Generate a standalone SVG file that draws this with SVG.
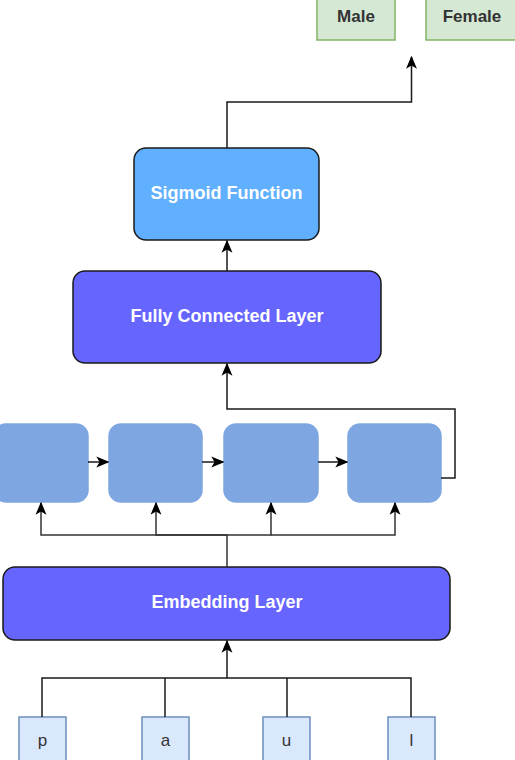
<svg xmlns="http://www.w3.org/2000/svg" width="515" height="760" viewBox="0 0 515 760">
<style>
.lbl{font-family:"Liberation Sans",Arial,sans-serif;font-weight:bold;font-size:18px;fill:#ffffff;text-anchor:middle;dominant-baseline:central}
.out{font-family:"Liberation Sans",Arial,sans-serif;font-weight:bold;font-size:17px;fill:#333333;text-anchor:middle;dominant-baseline:central}
.ch{font-family:"Liberation Sans",Arial,sans-serif;font-size:17px;fill:#333333;text-anchor:middle;dominant-baseline:central}
.green{fill:#d5e8d4;stroke:#82b366;stroke-width:1.5}
.inp{fill:#dae8fc;stroke:#6c8ebf;stroke-width:1.5}
.rnn{fill:#7ea6e0;stroke:#7ea6e0;stroke-width:1.5}
.blk{stroke:#1a1a1a;stroke-width:1.5}
.edge{fill:none;stroke:#1a1a1a;stroke-width:1.5}
.edge2{fill:none;stroke:#333333;stroke-width:1.5}
</style>
<defs>
<marker id="ah" viewBox="0 0 10 10" refX="9" refY="5" markerWidth="13" markerHeight="13" markerUnits="userSpaceOnUse" orient="auto">
<path d="M0,0.8 L10,5 L0,9.2 L2.5,5 Z" fill="#000000"/>
</marker>
</defs>
<g id="node-male"><rect class="green" x="317" y="-20" width="78" height="60"/><text class="out" x="356" y="16">Male</text></g>
<g id="node-female"><rect class="green" x="426" y="-20" width="100" height="60"/><text class="out" x="472" y="16">Female</text></g>
<g id="node-sigmoid"><rect class="blk" x="134" y="148" width="185" height="92" rx="12" fill="#60b0ff"/><text class="lbl" x="226.5" y="193">Sigmoid Function</text></g>
<g id="node-fc"><rect class="blk" x="73" y="271" width="308" height="92" rx="12" fill="#6666ff"/><text class="lbl" x="227" y="316">Fully Connected Layer</text></g>
<g id="node-rnn1"><rect class="rnn" x="-6" y="424" width="94" height="78" rx="12"/></g>
<g id="node-rnn2"><rect class="rnn" x="109" y="424" width="93" height="78" rx="12"/></g>
<g id="node-rnn3"><rect class="rnn" x="224" y="424" width="94" height="78" rx="12"/></g>
<g id="node-rnn4"><rect class="rnn" x="348" y="424" width="93" height="78" rx="12"/></g>
<g id="node-embedding"><rect class="blk" x="3" y="567" width="447" height="73" rx="12" fill="#6666ff"/><text class="lbl" x="227" y="602">Embedding Layer</text></g>
<g id="node-p"><rect class="inp" x="19" y="717" width="47" height="50"/><text class="ch" x="42.5" y="740">p</text></g>
<g id="node-a"><rect class="inp" x="142" y="717" width="47" height="50"/><text class="ch" x="165.5" y="740">a</text></g>
<g id="node-u"><rect class="inp" x="263" y="717" width="47" height="50"/><text class="ch" x="286.5" y="740">u</text></g>
<g id="node-l"><rect class="inp" x="388" y="717" width="47" height="50"/><text class="ch" x="411.5" y="740">l</text></g>
<g id="connectors">
<path class="edge" d="M227,148 V102 H411.5 V57" marker-end="url(#ah)"/>
<path class="edge" d="M227,271 V241" marker-end="url(#ah)"/>
<path class="edge" d="M441,478 H455 V409 H227 V364" marker-end="url(#ah)"/>
<path class="edge" d="M88,462 H108" marker-end="url(#ah)"/>
<path class="edge" d="M202,462 H223" marker-end="url(#ah)"/>
<path class="edge" d="M318,462 H347" marker-end="url(#ah)"/>
<path class="edge2" d="M227,567 V535 H41 V503" marker-end="url(#ah)"/>
<path class="edge2" d="M227,535 H156 V503" marker-end="url(#ah)"/>
<path class="edge2" d="M227,535 H271 V503" marker-end="url(#ah)"/>
<path class="edge2" d="M271,535 H395 V503" marker-end="url(#ah)"/>
<path class="edge" d="M42,717 V678 H411 V717"/>
<path class="edge" d="M165,717 V678"/>
<path class="edge" d="M287,717 V678"/>
<path class="edge" d="M227,678 V641" marker-end="url(#ah)"/>
</g>
</svg>
